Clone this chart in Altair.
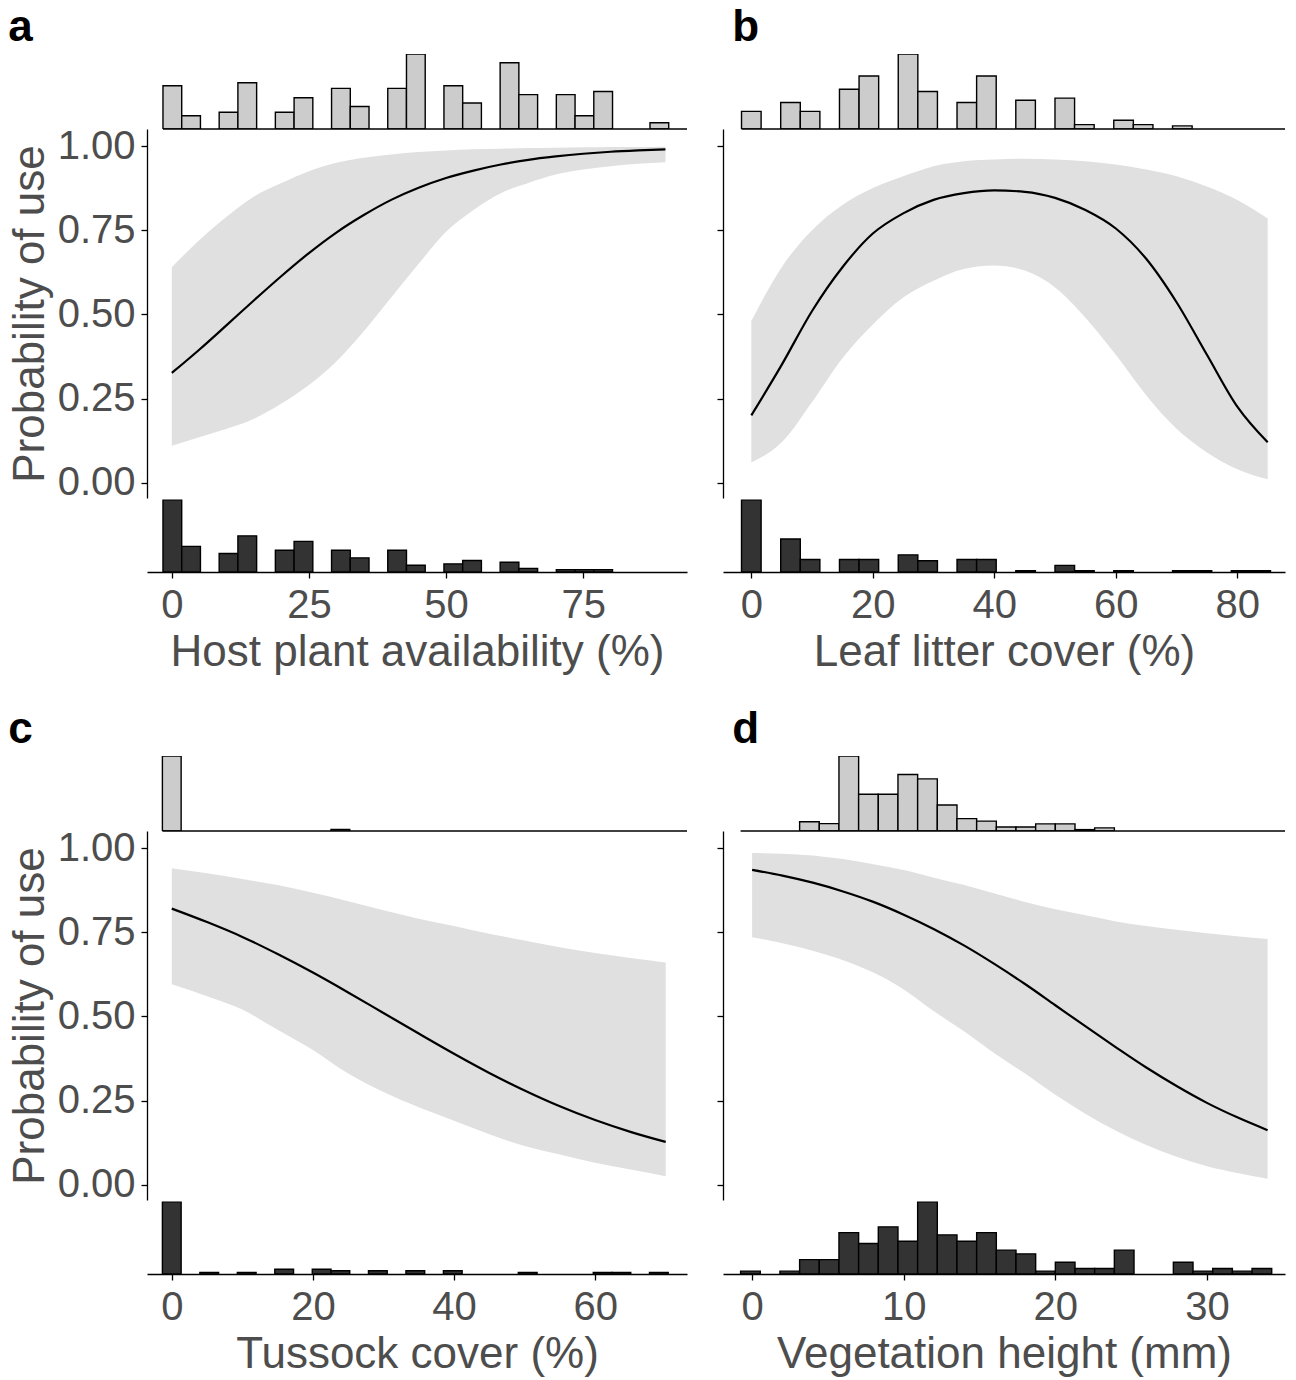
import altair as alt
import pandas as pd

FONT = "Liberation Sans"
GREY = "#4d4d4d"

# ---------------- data ----------------
# Panel a: Host plant availability
a_x = [0, 5, 10, 15, 20, 25, 30, 35, 40, 45, 50, 55, 60, 65, 70, 75, 80, 85, 90]
a_fit = [0.326, 0.395, 0.468, 0.542, 0.614, 0.682, 0.743, 0.795, 0.840, 0.876, 0.905, 0.927, 0.945, 0.959, 0.969, 0.977, 0.983, 0.987, 0.990]
a_lo = [0.11, 0.135, 0.16, 0.19, 0.235, 0.29, 0.36, 0.45, 0.55, 0.65, 0.745, 0.81, 0.86, 0.89, 0.915, 0.93, 0.94, 0.947, 0.952]
a_hi = [0.64, 0.72, 0.79, 0.85, 0.89, 0.925, 0.95, 0.965, 0.975, 0.982, 0.987, 0.99, 0.992, 0.994, 0.995, 0.996, 0.997, 0.997, 0.998]
a_bin_start, a_bin_w = 0.1, 3.415
a_top = [9.8, 3, 0, 3.8, 10.5, 0, 3.8, 7.1, 0, 9.2, 5.1, 0, 9.2, 17, 0, 9.8, 5.9, 0, 15, 7.8, 0, 7.8, 3, 8.5, 0, 0, 1.4]
a_bot = [30, 10.7, 0, 7.7, 15.1, 0, 9.1, 12.8, 0, 9.1, 5.9, 0, 9.1, 2.8, 0, 3.4, 4.8, 0, 4.1, 1.5, 0, 1, 1, 1]

# Panel b: Leaf litter cover
b_x = [0, 5, 10, 15, 20, 25, 30, 35, 40, 45, 50, 55, 60, 65, 70, 75, 80, 85]
b_fit = [0.20, 0.35, 0.51, 0.64, 0.74, 0.80, 0.84, 0.86, 0.868, 0.864, 0.846, 0.81, 0.755, 0.665, 0.536, 0.38, 0.226, 0.12]
b_lo = [0.06, 0.12, 0.24, 0.37, 0.47, 0.55, 0.60, 0.635, 0.645, 0.63, 0.58, 0.49, 0.38, 0.26, 0.16, 0.09, 0.04, 0.01]
b_hi = [0.48, 0.64, 0.75, 0.825, 0.875, 0.91, 0.94, 0.955, 0.96, 0.962, 0.96, 0.955, 0.945, 0.93, 0.91, 0.88, 0.84, 0.785]
b_bin_start, b_bin_w = 0.0, 3.225
b_top = [4, 0, 6, 4, 0, 9, 12, 0, 17, 8.5, 0, 6, 12, 0, 6.5, 0, 7, 1, 0, 2, 1, 0, 0.7]
b_bot = [54.5, 0, 25, 9.5, 0, 9.5, 9.5, 0, 13, 8.5, 0, 9.5, 9.5, 0, 1, 0, 5, 1, 0, 1, 0, 0, 1, 1, 0, 1, 1]

# Panel c: Tussock cover
c_x = [0, 5, 10, 15, 20, 25, 30, 35, 40, 45, 50, 55, 60, 65, 70]
c_fit = [0.82, 0.78, 0.736, 0.685, 0.63, 0.571, 0.51, 0.449, 0.389, 0.332, 0.28, 0.233, 0.192, 0.157, 0.127]
c_lo = [0.595, 0.56, 0.52, 0.46, 0.40, 0.33, 0.275, 0.23, 0.19, 0.15, 0.115, 0.09, 0.065, 0.045, 0.025]
c_hi = [0.94, 0.925, 0.908, 0.89, 0.867, 0.842, 0.815, 0.79, 0.768, 0.745, 0.725, 0.705, 0.688, 0.673, 0.66]
c_bin_start, c_bin_w = 0.0, 2.655
c_top = [45, 0, 0, 0, 0, 0, 0, 0, 0, 1]
c_bot = [45, 0, 1, 0, 1, 0, 3, 0, 3, 2, 0, 2, 0, 2, 0, 2, 0, 0, 0, 1, 0, 0, 0, 1, 1, 0, 1]

# Panel d: Vegetation height
d_x = [0, 2, 4, 6, 8, 10, 12, 14, 16, 18, 20, 22, 24, 26, 28, 30, 32, 34]
d_fit = [0.935, 0.918, 0.897, 0.871, 0.840, 0.802, 0.759, 0.710, 0.655, 0.596, 0.533, 0.470, 0.408, 0.348, 0.293, 0.243, 0.200, 0.162]
d_lo = [0.735, 0.717, 0.695, 0.667, 0.63, 0.58, 0.515, 0.455, 0.39, 0.33, 0.267, 0.21, 0.16, 0.118, 0.083, 0.055, 0.035, 0.018]
d_hi = [0.985, 0.983, 0.978, 0.967, 0.952, 0.935, 0.912, 0.89, 0.865, 0.84, 0.818, 0.80, 0.782, 0.768, 0.757, 0.747, 0.738, 0.73]
d_bin_start, d_bin_w = -0.11, 1.2975
d_top = [0, 0, 0, 3, 2.4, 24.3, 11.9, 11.9, 18.3, 16.9, 8.4, 4, 3.2, 1.3, 1.3, 2.3, 2.3, 0.45, 1]
d_bot = [1, 0, 1, 5, 5, 14.4, 10.6, 16.4, 11.4, 25, 13.6, 11.4, 14.4, 8.3, 7, 1, 4.1, 1.9, 1.9, 8.3, 0, 0, 4.1, 1, 1.9, 1, 1.9]

Y_TICKS = [0, 0.25, 0.5, 0.75, 1.0]
Y_DOMAIN = [-0.0454, 1.0505]

TOP_H, MAIN_H, BOT_H = 75, 369, 74


def bins_df(start, w, heights):
    rows = []
    for k, h in enumerate(heights):
        c = start + w * k
        rows.append({"x0": c - w / 2, "x1": c + w / 2, "h": h})
    return pd.DataFrame(rows)


def panel(letter, xs, fit, lo, hi, bstart, bw, top, bot, xdom, xticks, xtitle,
          width, left_labels, letter_dx):
    xsc = alt.Scale(domain=xdom, nice=False, zero=False)

    # top histogram
    tdf = bins_df(bstart, bw, top)
    tdf = tdf[tdf["h"] > 0]
    topbars = alt.Chart(tdf).mark_bar(
        fill="#cccccc", stroke="black", strokeWidth=1.4, clip=True
    ).encode(
        x=alt.X("x0:Q", scale=xsc, axis=None),
        x2="x1:Q",
        y=alt.Y("h:Q", scale=alt.Scale(domain=[0, max(top)], nice=False), axis=None),
        y2=alt.datum(0),
    )
    base_df = pd.DataFrame({"xa": [bstart - bw / 2], "xb": [xdom[1]]})
    baseline = alt.Chart(base_df).mark_rule(color="black", strokeWidth=1.3).encode(
        x=alt.X("xa:Q", scale=xsc, axis=None),
        x2="xb:Q",
        y=alt.value(TOP_H),
    )
    top_chart = alt.layer(topbars, baseline).properties(width=width, height=TOP_H)

    # main panel
    cdf = pd.DataFrame({"x": xs, "fit": fit, "lo": lo, "hi": hi})
    ysc = alt.Scale(domain=Y_DOMAIN, nice=False, zero=False)
    if left_labels:
        yaxis = alt.Axis(values=Y_TICKS, format=".2f", title="Probability of use",
                         grid=False, domainColor="black", tickColor="black",
                         domainWidth=1.3, tickWidth=1.3, tickSize=6,
                         labelFont=FONT, labelFontSize=40, labelColor=GREY,
                         labelPadding=6, titleFont=FONT, titleFontSize=44,
                         titleColor=GREY, titleFontWeight="normal", titlePadding=5)
    else:
        yaxis = alt.Axis(values=Y_TICKS, labels=False, title=None,
                         grid=False, domainColor="black", tickColor="black",
                         domainWidth=1.3, tickWidth=1.3, tickSize=6)
    band = alt.Chart(cdf).mark_area(color="#e0e0e0", opacity=1, interpolate="monotone").encode(
        x=alt.X("x:Q", scale=xsc, axis=None),
        y=alt.Y("lo:Q", scale=ysc, axis=yaxis),
        y2="hi:Q",
    )
    line = alt.Chart(cdf).mark_line(color="black", strokeWidth=2.2, interpolate="monotone").encode(
        x=alt.X("x:Q", scale=xsc, axis=None),
        y=alt.Y("fit:Q", scale=ysc),
    )
    main_chart = alt.layer(band, line).properties(width=width, height=MAIN_H)

    # bottom histogram with x axis
    bdf = bins_df(bstart, bw, bot)
    bdf = bdf[bdf["h"] > 0]
    xaxis = alt.Axis(values=xticks, title=xtitle, grid=False, domainColor="black",
                     tickColor="black", domainWidth=1.3, tickWidth=1.3, tickSize=6,
                     labelFont=FONT, labelFontSize=40, labelColor=GREY, labelPadding=7,
                     labelFlush=False, titleFont=FONT, titleFontSize=44,
                     titleColor=GREY, titleFontWeight="normal", titlePadding=5)
    botbars = alt.Chart(bdf).mark_bar(
        fill="#333333", stroke="black", strokeWidth=1.4
    ).encode(
        x=alt.X("x0:Q", scale=xsc, axis=xaxis),
        x2="x1:Q",
        y=alt.Y("h:Q", scale=alt.Scale(domain=[0, max(bot) * 1.03], nice=False), axis=None),
        y2=alt.datum(0),
    )
    bot_chart = botbars.properties(width=width, height=BOT_H)

    return alt.vconcat(top_chart, main_chart, bot_chart, spacing=0, bounds="flush").properties(
        title=alt.TitleParams(letter, anchor="start", fontSize=44, fontWeight="bold",
                              font=FONT, color="black", dx=letter_dx, offset=-31,
                              baseline="alphabetic")
    )


pa = panel("a", a_x, a_fit, a_lo, a_hi, a_bin_start, a_bin_w, a_top, a_bot,
           [-4.52, 93.93], [0, 25, 50, 75], "Host plant availability (%)", 540, True, 0)
pb = panel("b", b_x, b_fit, b_lo, b_hi, b_bin_start, b_bin_w, b_top, b_bot,
           [-4.66, 87.85], [0, 20, 40, 60, 80], "Leaf litter cover (%)", 562, False, 16)
pc = panel("c", c_x, c_fit, c_lo, c_hi, c_bin_start, c_bin_w, c_top, c_bot,
           [-3.51, 73.02], [0, 20, 40, 60], "Tussock cover (%)", 540, True, 0)
pd_ = panel("d", d_x, d_fit, d_lo, d_hi, d_bin_start, d_bin_w, d_top, d_bot,
            [-1.92, 35.15], [0, 10, 20, 30], "Vegetation height (mm)", 562, False, 16)

row1 = alt.hconcat(pa, pb, spacing=28)
row2 = alt.hconcat(pc, pd_, spacing=28)
chart = alt.vconcat(row1, row2, spacing=34).properties(
    padding={"left": 8, "top": 6, "right": 5, "bottom": 5},
    background="white",
).configure_view(stroke=None)

chart.save("out.html", embed_options={"renderer": "svg", "actions": False})
